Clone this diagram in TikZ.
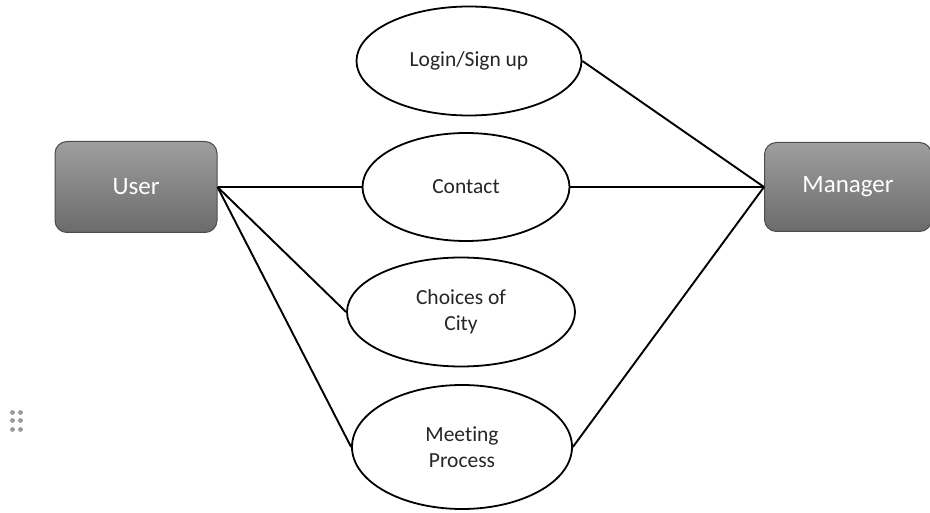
\documentclass[tikz,border=0pt]{standalone}
\usepackage{fontspec}
\setmainfont[Ligatures=NoCommon]{Carlito}
\usetikzlibrary{shapes,positioning}
\tikzstyle{actor} = [rectangle, draw=black!70, line width=1pt,
    rounded corners=12pt, top color=black!38, bottom color=black!58,
    text=white, font=\fontsize{25}{30}\selectfont]
\tikzstyle{usecase} = [ellipse, draw, line width=1.8pt, fill=white,
    inner sep=0pt, align=center, text=black!85,
    font=\fontsize{21.5}{26}\selectfont]
\tikzstyle{line} = [draw, line width=1.9pt]

\begin{document}
\begin{tikzpicture}[x=1pt, y=1pt, on grid]
	    \useasboundingbox (0,0) rectangle (930,512);
	    % Place nodes
	    \node [usecase, minimum width=207pt, minimum height=108pt] (contact) at (466,325) {Contact};
	    \node [usecase, minimum width=225pt, minimum height=109pt, above=126pt of contact, xshift=3pt] (login) {Login/Sign up};
	    \node [usecase, minimum width=228pt, minimum height=109pt, below=125pt of contact, xshift=-5pt] (choices) {Choices of\\City};
	    \node [usecase, minimum width=220pt, minimum height=124pt, below=135pt of choices, xshift=1pt] (meeting) {Meeting\\Process};
	    \node [actor, minimum width=162pt, minimum height=91pt, left=330pt of contact] (user) {User};
	    \node [actor, minimum width=167pt, minimum height=89pt, right=382pt of contact] (manager) {Manager};
	    % Draw edges
	    \path [line] (user.east) -- (contact.west);
	    \path [line] (user.east) -- (choices.west);
	    \path [line] (user.east) -- (meeting.west);
	    \path [line] (manager.west) -- (login.east);
	    \path [line] (manager.west) -- (contact.east);
	    \path [line] (manager.west) -- (meeting.east);
	    % Handle dots
	    \foreach \dx in {12.5,20.5}
	        \foreach \dy in {99.5,91.5,82.5}
	            \fill [black!40] (\dx,\dy) circle (2.4pt);
	\end{tikzpicture}
\end{document}
